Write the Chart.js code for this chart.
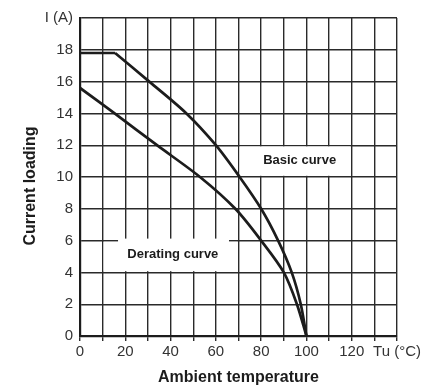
<!DOCTYPE html>
<html>
<head>
<meta charset="utf-8">
<script src="https://cdn.jsdelivr.net/npm/chart.js@4"></script>
<style>
  html, body { margin: 0; padding: 0; background: #fff; }
  #wrap { width: 440px; height: 388px; position: relative; }
</style>
</head>
<body>
<div id="wrap"><canvas id="c"></canvas></div>
<script>
// Ambient temperature (°C) vs. permissible current (A)
const basicFlatTemp    = [0, 15.5];
const basicFlatCurrent = [17.8, 17.8];
const basicTemp        = [15.5, 30.6, 47, 60, 70.5, 80, 87.5, 93.5, 97.5, 100];
const basicCurrent     = [17.8, 16, 14, 12, 10, 8, 6, 4, 2, 0];
const deratingTemp     = [0, 15.3, 34, 53, 68.6, 80, 90, 95.8, 100];
const deratingCurrent  = [15.6, 14, 12, 10, 8, 6, 4, 2, 0];

const xTickLabels = { 0: '0', 20: '20', 40: '40', 60: '60', 80: '80', 100: '100', 120: '120', 140: 'Tu (°C)' };
const yTickLabels = { 0: '0', 2: '2', 4: '4', 6: '6', 8: '8', 10: '10', 12: '12', 14: '14', 16: '16', 18: '18', 20: 'I (A)' };

const curveLabels = ['Basic curve', 'Derating curve'];
const axisTitles = { x: 'Ambient temperature', y: 'Current loading' };

const pts = (xs, ys) => xs.map((x, i) => ({ x, y: ys[i] }));

const INK = '#1c1c1c';
const GRID = '#2a2a2a';

// White label panels placed over the grid, plus their captions
const panelPlugin = {
  id: 'panels',
  beforeDatasetsDraw(chart) {
    const { ctx, scales: { x, y } } = chart;
    ctx.save();
    ctx.fillStyle = '#fff';
    // Basic curve panel (70..120 °C, 10..12 A)
    ctx.fillRect(x.getPixelForValue(70) + 1, y.getPixelForValue(12) + 1.2,
                 x.getPixelForValue(120) - x.getPixelForValue(70) - 2,
                 y.getPixelForValue(10) - y.getPixelForValue(12) - 2.4);
    // Derating curve panel (10..70 °C, 4..6 A)
    ctx.fillRect(x.getPixelForValue(10) + 1, y.getPixelForValue(6) + 1.2,
                 x.getPixelForValue(70) - x.getPixelForValue(10) - 2,
                 y.getPixelForValue(4) - y.getPixelForValue(6) - 2.4);
    ctx.fillRect(x.getPixelForValue(16.8), y.getPixelForValue(6) - 2,
                 x.getPixelForValue(65.8) - x.getPixelForValue(16.8), 4);
    ctx.restore();
  },
  afterDatasetsDraw(chart) {
    const { ctx, scales: { x, y } } = chart;
    ctx.save();
    ctx.fillStyle = INK;
    ctx.font = 'bold 13px "Liberation Sans", Arial, sans-serif';
    ctx.textAlign = 'center';
    ctx.textBaseline = 'middle';
    ctx.fillText(curveLabels[0], x.getPixelForValue(97), y.getPixelForValue(11.05));
    ctx.fillText(curveLabels[1], x.getPixelForValue(41), y.getPixelForValue(5.1));

    // axis titles
    ctx.font = 'bold 16px "Liberation Sans", Arial, sans-serif';
    ctx.fillText(axisTitles.x, (chart.chartArea.left + chart.chartArea.right) / 2, 378);
    ctx.translate(31, 186);
    ctx.rotate(-Math.PI / 2);
    ctx.fillText(axisTitles.y, 0, 0);
    ctx.restore();
  }
};

const lineStyle = {
  borderColor: INK,
  borderWidth: 2.7,
  pointRadius: 0,
  fill: false,
  tension: 0.3,
  borderCapStyle: 'butt',
  borderJoinStyle: 'miter'
};

new Chart(document.getElementById('c'), {
  type: 'line',
  data: {
    datasets: [
      { label: 'Basic curve (plateau)', data: pts(basicFlatTemp, basicFlatCurrent), ...lineStyle, tension: 0 },
      { label: curveLabels[0], data: pts(basicTemp, basicCurrent), ...lineStyle },
      { label: curveLabels[1], data: pts(deratingTemp, deratingCurrent), ...lineStyle }
    ]
  },
  options: {
    responsive: true,
    maintainAspectRatio: false,
    animation: false,
    events: [],
    layout: { padding: { top: 18, right: 43, left: 0, bottom: 0 } },
    plugins: { legend: { display: false }, tooltip: { enabled: false } },
    scales: {
      x: {
        type: 'linear',
        min: 0, max: 140,
        afterFit(scale) { scale.height = 52; },
        grid: {
          color: GRID,
          lineWidth: 1.4,
          drawTicks: true,
          tickLength: 5,
          tickColor: GRID
        },
        border: { color: INK, width: 2.2 },
        ticks: {
          stepSize: 10,
          autoSkip: false,
          maxRotation: 0,
          padding: 2,
          color: '#333',
          font: { family: '"Liberation Sans", Arial, sans-serif', size: 15 },
          callback: v => xTickLabels[v] ?? ''
        }
      },
      y: {
        type: 'linear',
        min: 0, max: 20,
        afterFit(scale) { scale.width = 80; },
        grid: {
          color: GRID,
          lineWidth: 1.4,
          drawTicks: false
        },
        border: { color: INK, width: 2.2 },
        ticks: {
          stepSize: 2,
          autoSkip: false,
          padding: 7,
          color: '#333',
          font: { family: '"Liberation Sans", Arial, sans-serif', size: 15 },
          callback: v => yTickLabels[v] ?? ''
        }
      }
    }
  },
  plugins: [panelPlugin]
});
</script>
</body>
</html>
